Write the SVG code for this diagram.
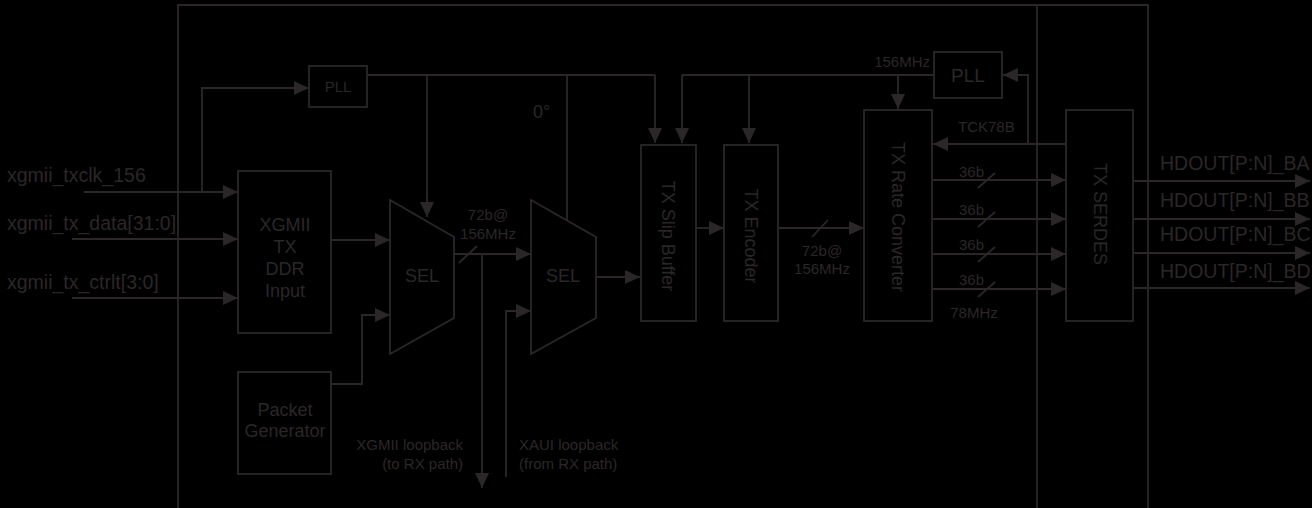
<svg xmlns="http://www.w3.org/2000/svg" width="1312" height="508" viewBox="0 0 1312 508">
<style>
.ln{fill:none;stroke:#2b2728;stroke-width:1.8}
.bx{fill:none;stroke:#2b2728;stroke-width:1.8}
.t{fill:#2b2728;font-family:"Liberation Sans",Arial,sans-serif;font-size:18px}
.b{font-size:19.5px}
.s{fill:#2b2728;font-family:"Liberation Sans",Arial,sans-serif;font-size:15px}
.m{text-anchor:middle}
.e{text-anchor:end}
.arr{marker-end:url(#ah)}
</style>
<defs>
<marker id="ah" markerWidth="16" markerHeight="14" refX="15" refY="7" orient="auto" markerUnits="userSpaceOnUse"><path d="M0,0 L15,7 L0,14 z" fill="#2b2728"/></marker>
</defs>
<rect x="0" y="0" width="1312" height="508" fill="#000"/>
<g id="frame">
<path class="ln" d="M178,508 V5 H1148 V508 M1037,5 V508"/>
</g>
<g id="connectors">
<path class="ln arr" d="M84,192 H238"/>
<path class="ln arr" d="M202,192 V88 H309"/>
<path class="ln arr" d="M72,239 H238"/>
<path class="ln arr" d="M72,298 H238"/>
<path class="ln arr" d="M331,240 H390"/>
<path class="ln arr" d="M331,384 H362 V315 H390"/>
<path class="ln" d="M367,75 H655"/>
<path class="ln arr" d="M427,75 V217"/>
<path class="ln" d="M567,75 V220"/>
<path class="ln arr" d="M655,75 V143"/>
<path class="ln arr" d="M682,75 H934 M682,75 V143"/>
<path class="ln arr" d="M749,75 V143"/>
<path class="ln arr" d="M898,75 V109"/>
<path class="ln arr" d="M454,254 H531"/>
<path class="ln" d="M459,263 L477,246"/>
<path class="ln arr" d="M482,254 V488"/>
<path class="ln arr" d="M506,477 V311 H531"/>
<path class="ln arr" d="M596,277 H640"/>
<path class="ln arr" d="M696,228 H724"/>
<path class="ln arr" d="M778,228 H864"/>
<path class="ln" d="M812,237 L828,220"/>
<path class="ln arr" d="M1066,144 H933"/>
<path class="ln arr" d="M1028,144 V75 H1003"/>
<path class="ln arr" d="M932,180 H1066"/>
<path class="ln arr" d="M932,219 H1066"/>
<path class="ln arr" d="M932,254 H1066"/>
<path class="ln arr" d="M932,289 H1066"/>
<path class="ln" d="M978,188 L995,173 M978,227 L995,212 M978,262 L995,247 M978,297 L995,282"/>
<path class="ln arr" d="M1133,181 H1310"/>
<path class="ln arr" d="M1133,219 H1310"/>
<path class="ln arr" d="M1133,253 H1310"/>
<path class="ln arr" d="M1133,288 H1310"/>
</g>
<g id="labels">
<text class="t b" x="7" y="182">xgmii_txclk_156</text>
<text class="t b" x="7" y="230">xgmii_tx_data[31:0]</text>
<text class="t b" x="7" y="289">xgmii_tx_ctrlt[3:0]</text>
<text class="s m" x="488" y="220">72b@</text>
<text class="s m" x="488" y="239">156MHz</text>
<text class="t" x="533" y="118">0°</text>
<text class="s e" x="463" y="450">XGMII loopback</text>
<text class="s e" x="463" y="469">(to RX path)</text>
<text class="s" x="519" y="450">XAUI loopback</text>
<text class="s" x="519" y="469">(from RX path)</text>
<text class="s m" x="822" y="256">72b@</text>
<text class="s m" x="822" y="274">156MHz</text>
<text class="s e" x="930" y="67">156MHz</text>
<text class="s" x="958" y="132">TCK78B</text>
<text class="s" x="959" y="177">36b</text>
<text class="s" x="959" y="215">36b</text>
<text class="s" x="959" y="250">36b</text>
<text class="s" x="959" y="285">36b</text>
<text class="s m" x="974" y="318">78MHz</text>
<text class="t b" x="1160" y="170">HDOUT[P:N]_BA</text>
<text class="t b" x="1160" y="207">HDOUT[P:N]_BB</text>
<text class="t b" x="1160" y="241">HDOUT[P:N]_BC</text>
<text class="t b" x="1160" y="278">HDOUT[P:N]_BD</text>
</g>
<g id="pll1">
<rect class="bx" x="309" y="66" width="58" height="41"/>
<text class="s m" x="338" y="92">PLL</text>
</g>
<g id="xgmii_tx_ddr">
<rect class="bx" x="238" y="171" width="93" height="162"/>
<text class="t m" x="285" y="231">XGMII</text>
<text class="t m" x="285" y="253">TX</text>
<text class="t m" x="285" y="275">DDR</text>
<text class="t m" x="285" y="297">Input</text>
</g>
<g id="packet_gen">
<rect class="bx" x="238" y="372" width="93" height="102"/>
<text class="t m" x="285" y="416">Packet</text>
<text class="t m" x="285" y="437">Generator</text>
</g>
<g id="sel1">
<path class="bx" d="M390,200 L454,237 V318 L390,354 Z"/>
<text class="t m" x="422" y="282">SEL</text>
</g>
<g id="sel2">
<path class="bx" d="M531,200 L596,237 V318 L531,354 Z"/>
<text class="t m" x="563" y="282">SEL</text>
</g>
<g id="slip_buffer">
<rect class="bx" x="641" y="145" width="55" height="176"/>
<text class="t m" transform="translate(668,236) rotate(90)" y="6">TX Slip Buffer</text>
</g>
<g id="encoder">
<rect class="bx" x="724" y="145" width="54" height="176"/>
<text class="t m" transform="translate(751,236) rotate(90)" y="6">TX Encoder</text>
</g>
<g id="pll2">
<rect class="bx" x="934" y="52" width="68" height="46"/>
<text class="t m" style="font-size:19px" x="968" y="82">PLL</text>
</g>
<g id="rate_converter">
<rect class="bx" x="864" y="110" width="68" height="211"/>
<text class="t m" transform="translate(898,217) rotate(90)" y="6">TX Rate Converter</text>
</g>
<g id="serdes">
<rect class="bx" x="1066" y="110" width="67" height="211"/>
<text class="t m" transform="translate(1100,214) rotate(90)" y="6">TX SERDES</text>
</g>
</svg>
